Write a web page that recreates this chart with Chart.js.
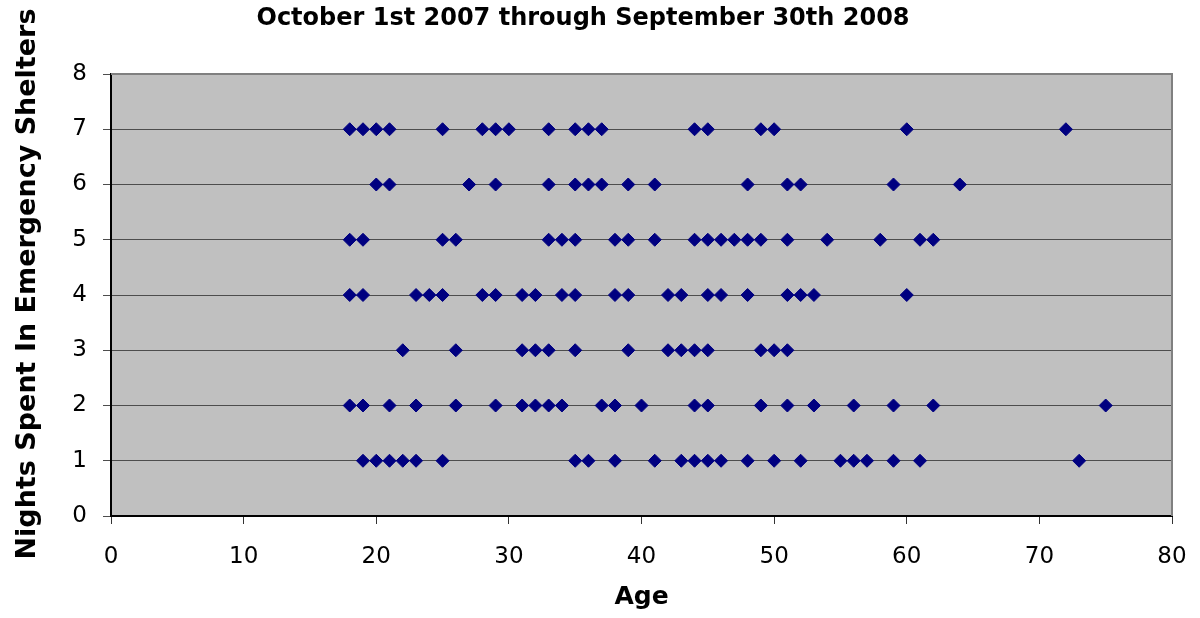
<!DOCTYPE html>
<html>
<head>
<meta charset="utf-8">
<title>Nights Spent In Emergency Shelters by Age</title>
<script src="https://cdn.jsdelivr.net/npm/chart.js@4.4.1/dist/chart.umd.min.js"></script>
<style>
    html, body { margin: 0; padding: 0; background: #fff; }
    #chart { display: block; }
</style>
</head>
<body>
<canvas id="chart" width="1200" height="618"></canvas>
<script>
const chartTitle = 'October 1st 2007 through September 30th 2008';
const xAxisTitle = 'Age';
const yAxisTitle = 'Nights Spent In Emergency Shelters';

// ages of the people for each number of nights
const agesOneNight = [19, 20, 21, 22, 23, 25, 35, 36, 38, 41, 43, 44, 45, 46, 48, 50, 52, 55, 56, 57, 59, 61, 73];
const agesTwoNights = [18, 19, 21, 23, 26, 29, 31, 32, 33, 34, 37, 38, 40, 44, 45, 49, 51, 53, 56, 59, 62, 75];
const agesThreeNights = [22, 26, 31, 32, 33, 35, 39, 42, 43, 44, 45, 49, 50, 51];
const agesFourNights = [18, 19, 23, 24, 25, 28, 29, 31, 32, 34, 35, 38, 39, 42, 43, 45, 46, 48, 51, 52, 53, 60];
const agesFiveNights = [18, 19, 25, 26, 33, 34, 35, 38, 39, 41, 44, 45, 46, 47, 48, 49, 51, 54, 58, 61, 62];
const agesSixNights = [20, 21, 27, 29, 33, 35, 36, 37, 39, 41, 48, 51, 52, 59, 64];
const agesSevenNights = [18, 19, 20, 21, 25, 28, 29, 30, 33, 35, 36, 37, 44, 45, 49, 50, 60, 72];

const nights = [1, 2, 3, 4, 5, 6, 7];
const agesByNights = [agesOneNight, agesTwoNights, agesThreeNights, agesFourNights, agesFiveNights, agesSixNights, agesSevenNights];

// tick labels
const xTicks = [0, 10, 20, 30, 40, 50, 60, 70, 80];
const yTicks = [0, 1, 2, 3, 4, 5, 6, 7, 8];

const points = [];
nights.forEach((n, i) => {
    agesByNights[i].forEach(age => points.push({ x: age, y: n }));
});

const fontFamily = '"DejaVu Sans", Arial, sans-serif';

// grey plot area with a thin grey frame on top and right
const plotBackground = {
    id: 'plotBackground',
    beforeDraw(chart) {
        const { ctx, chartArea: a } = chart;
        ctx.save();
        ctx.fillStyle = '#ffffff';
        ctx.fillRect(0, 0, chart.width, chart.height);
        ctx.fillStyle = '#c0c0c0';
        ctx.fillRect(a.left, a.top, a.right - a.left, a.bottom - a.top);
        ctx.restore();
    },
    beforeDatasetsDraw(chart) {
        const { ctx, chartArea: a } = chart;
        ctx.save();
        ctx.strokeStyle = '#808080';
        ctx.lineWidth = 2;
        ctx.beginPath();
        ctx.moveTo(a.left, a.top);
        ctx.lineTo(a.right, a.top);
        ctx.lineTo(a.right, a.bottom);
        ctx.stroke();
        ctx.restore();
    }
};

// main title and the rotated y title
const titleText = {
    id: 'titleText',
    afterDraw(chart) {
        const ctx = chart.ctx;
        ctx.save();
        ctx.fillStyle = '#000';
        ctx.textAlign = 'center';
        ctx.textBaseline = 'middle';
        ctx.font = 'bold 24px ' + fontFamily;
        ctx.fillText(chartTitle, 583, 19);

        ctx.translate(28, 284);
        ctx.rotate(-Math.PI / 2);
        ctx.font = 'bold 27px ' + fontFamily;
        ctx.fillText(yAxisTitle, 0, 0);
        ctx.restore();
    }
};

new Chart(document.getElementById('chart'), {
    type: 'scatter',
    data: {
        datasets: [{
            label: yAxisTitle,
            data: points,
            pointStyle: 'rectRot',
            pointRadius: 6.5,
            pointHoverRadius: 6.5,
            backgroundColor: '#000080',
            borderColor: '#000080',
            borderWidth: 1
        }]
    },
    options: {
        responsive: false,
        animation: false,
        devicePixelRatio: 1,
        layout: {
            padding: { top: 74, right: 28, bottom: 0, left: 0 }
        },
        plugins: {
            legend: { display: false },
            tooltip: { enabled: false },
            title: { display: false }
        },
        scales: {
            x: {
                type: 'linear',
                position: 'bottom',
                min: xTicks[0],
                max: xTicks[xTicks.length - 1],
                ticks: {
                    stepSize: xTicks[1] - xTicks[0],
                    color: '#000',
                    padding: 19,
                    maxRotation: 0,
                    autoSkip: false,
                    font: { family: fontFamily, size: 23 }
                },
                grid: {
                    drawOnChartArea: false,
                    drawTicks: true,
                    tickLength: 8,
                    color: '#333'
                },
                border: { color: '#000', width: 2 },
                title: {
                    display: true,
                    text: xAxisTitle,
                    color: '#000',
                    font: { family: fontFamily, size: 25, weight: 'bold' },
                    padding: { top: 0, bottom: 6 }
                },
                afterFit(scale) {
                    scale.height = 102;
                    scale.paddingLeft = 0;
                    scale.paddingRight = 0;
                }
            },
            y: {
                type: 'linear',
                min: yTicks[0],
                max: yTicks[yTicks.length - 1],
                ticks: {
                    stepSize: yTicks[1] - yTicks[0],
                    color: '#000',
                    padding: 16,
                    font: { family: fontFamily, size: 23 }
                },
                grid: {
                    drawOnChartArea: true,
                    drawTicks: true,
                    tickLength: 8,
                    color: '#4d4d4d'
                },
                border: { color: '#000', width: 2 },
                afterFit(scale) {
                    scale.width = 111;
                    scale.paddingTop = 0;
                    scale.paddingBottom = 0;
                }
            }
        }
    },
    plugins: [plotBackground, titleText]
});
</script>
</body>
</html>
